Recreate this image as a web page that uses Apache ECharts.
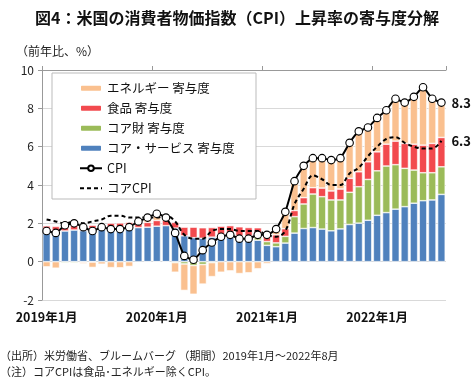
<!DOCTYPE html>
<html><head><meta charset="utf-8">
<script src="https://cdn.jsdelivr.net/npm/echarts@6/dist/echarts.min.js"></script>
<style>html,body{margin:0;padding:0;background:#fff}#c{width:474px;height:389px}</style>
</head><body><div id="c"></div>
<script>
const months = [];
for (let y = 2019; y <= 2022; y++) for (let m = 1; m <= 12; m++) { if (y === 2022 && m > 8) break; months.push(y + '年' + m + '月'); }
const coreServices = [1.50,1.50,1.60,1.65,1.62,1.62,1.68,1.70,1.72,1.75,1.78,1.80,
  1.85,1.88,1.75,1.35,1.25,1.22,1.28,1.30,1.30,1.22,1.18,1.12,
  0.85,0.78,0.97,1.49,1.73,1.78,1.70,1.61,1.71,1.94,2.01,2.16,
  2.42,2.56,2.74,2.87,3.05,3.18,3.22,3.51];
const coreGoods = [0.05,0.02,-0.05,-0.05,-0.03,-0.02,0.00,0.06,0.05,0.02,0.00,-0.03,
  -0.02,-0.02,-0.05,-0.12,-0.20,-0.15,-0.05,0.05,0.10,0.12,0.15,0.20,
  0.20,0.20,0.35,0.86,1.28,1.75,1.69,1.61,1.51,1.68,1.90,2.13,
  2.32,2.43,2.32,2.00,1.73,1.46,1.42,1.44];
const food = [0.32,0.32,0.28,0.25,0.28,0.28,0.25,0.25,0.25,0.28,0.28,0.25,
  0.30,0.28,0.30,0.45,0.55,0.55,0.50,0.50,0.48,0.48,0.45,0.45,
  0.45,0.42,0.40,0.32,0.33,0.33,0.45,0.47,0.57,0.73,0.78,0.92,
  0.99,1.14,1.23,1.30,1.35,1.44,1.53,1.53];
const energy = [-0.27,-0.34,0.07,0.15,-0.07,-0.28,-0.13,-0.31,-0.32,-0.25,0.04,0.28,
  0.37,0.16,-0.50,-1.38,-1.50,-1.02,-0.73,-0.55,-0.48,-0.62,-0.58,-0.37,
  -0.10,0.30,0.88,1.53,1.66,1.54,1.56,1.61,1.61,1.85,2.11,1.79,
  1.77,1.77,2.21,2.13,2.47,3.02,2.33,1.82];
const cpi = [1.6,1.5,1.9,2.0,1.8,1.6,1.8,1.7,1.7,1.8,2.1,2.3,
  2.5,2.3,1.5,0.3,0.1,0.6,1.0,1.3,1.4,1.2,1.2,1.4,
  1.4,1.7,2.6,4.2,5.0,5.4,5.4,5.3,5.4,6.2,6.8,7.0,
  7.5,7.9,8.5,8.3,8.6,9.1,8.5,8.3];
const coreCpi = [2.2,2.1,2.0,2.1,2.0,2.1,2.2,2.4,2.4,2.3,2.3,2.3,
  2.3,2.4,2.1,1.4,1.2,1.2,1.6,1.7,1.7,1.6,1.6,1.6,
  1.4,1.3,1.6,3.0,3.8,4.5,4.3,4.0,4.0,4.6,4.9,5.5,
  6.0,6.4,6.5,6.2,6.0,5.9,5.9,6.3];
const yTicks = [-2,0,2,4,6,8,10];

const FONT = '"Noto Sans CJK JP","Noto Sans",sans-serif';
const chart = echarts.init(document.getElementById('c'), null, {renderer:'canvas'});
const barBase = {type:'bar', stack:'s', xAxisIndex:0, barWidth:7.6,
  itemStyle:{borderColor:'#fff', borderWidth:0.6}, emphasis:{disabled:true}};
chart.setOption({
  animation:false,
  textStyle:{fontFamily:FONT},
  title:{text:'図4：米国の消費者物価指数（CPI）上昇率の寄与度分解', left:'center', top:5,
    textStyle:{fontFamily:FONT, fontSize:16, fontWeight:'bold', color:'#111'}},
  graphic:[
    {type:'text', left:16, top:45, style:{text:'（前年比、%）', font:'12px '+FONT, fill:'#222'}},
    {type:'rect', shape:{x:52, y:73, width:204, height:126}, style:{fill:'#fff', stroke:'#bbb', lineWidth:1}, z:5},
    {type:'text', left:0, top:350, style:{text:'（出所）米労働省、ブルームバーグ （期間）2019年1月～2022年8月', font:'11px '+FONT, fill:'#222'}},
    {type:'text', left:0, top:366, style:{text:'（注）コアCPIは食品･エネルギー除くCPI。', font:'11px '+FONT, fill:'#222'}}
  ],
  legend:{orient:'vertical', left:74, top:77, itemWidth:22, itemHeight:7, itemGap:7.5, z:10,
    textStyle:{fontFamily:FONT, fontSize:12.5, color:'#111'},
    data:['エネルギー 寄与度','食品 寄与度','コア財 寄与度','コア・サービス 寄与度','CPI',
      {name:'コアCPI', itemStyle:{opacity:0}}]},
  grid:{left:42, right:28, top:70, bottom:89},
  xAxis:[
    {type:'category', data:months, position:'bottom', axisLine:{show:false}, axisTick:{show:false},
      axisLabel:{interval:11, fontSize:12.5, fontWeight:'bold', color:'#111', margin:11, fontFamily:FONT}},
    {type:'category', data:months, axisLine:{onZero:true, lineStyle:{color:'#999'}},
      axisTick:{show:true, interval:11, length:4, lineStyle:{color:'#999'}}, axisLabel:{show:false}}
  ],
  yAxis:{type:'value', min:-2, max:10, interval:2,
    axisLine:{show:true, lineStyle:{color:'#999'}}, axisTick:{show:true, length:4, lineStyle:{color:'#999'}},
    splitLine:{lineStyle:{color:'#d9d9d9'}},
    axisLabel:{fontSize:12, color:'#222', margin:8, fontFamily:FONT}},
  series:[
    Object.assign({}, barBase, {name:'コア・サービス 寄与度', data:coreServices, itemStyle:Object.assign({}, barBase.itemStyle, {color:'#4F81BD'})}),
    Object.assign({}, barBase, {name:'コア財 寄与度', data:coreGoods, itemStyle:Object.assign({}, barBase.itemStyle, {color:'#9BBB59'})}),
    Object.assign({}, barBase, {name:'食品 寄与度', data:food, itemStyle:Object.assign({}, barBase.itemStyle, {color:'#F24A4E'})}),
    Object.assign({}, barBase, {name:'エネルギー 寄与度', data:energy, itemStyle:Object.assign({}, barBase.itemStyle, {color:'#FAC08F'})}),
    {name:'CPI', type:'line', data:cpi, xAxisIndex:0, smooth:0.15, z:4,
      symbol:'circle', symbolSize:7.5, showAllSymbol:true,
      lineStyle:{color:'#000', width:2}, itemStyle:{color:'#fff', borderColor:'#000', borderWidth:1.1},
      endLabel:{show:true, distance:10, formatter:p=>p.value.toFixed(1), fontSize:13, fontWeight:'bold', color:'#111', fontFamily:FONT}},
    {name:'コアCPI', type:'line', data:coreCpi, xAxisIndex:0, smooth:0.35, z:3, symbol:'none',
      lineStyle:{color:'#000', width:2, type:[4,3]}, itemStyle:{color:'#000'},
      endLabel:{show:true, distance:10, formatter:p=>p.value.toFixed(1), fontSize:13, fontWeight:'bold', color:'#111', fontFamily:FONT}}
  ]
});
</script></body></html>
